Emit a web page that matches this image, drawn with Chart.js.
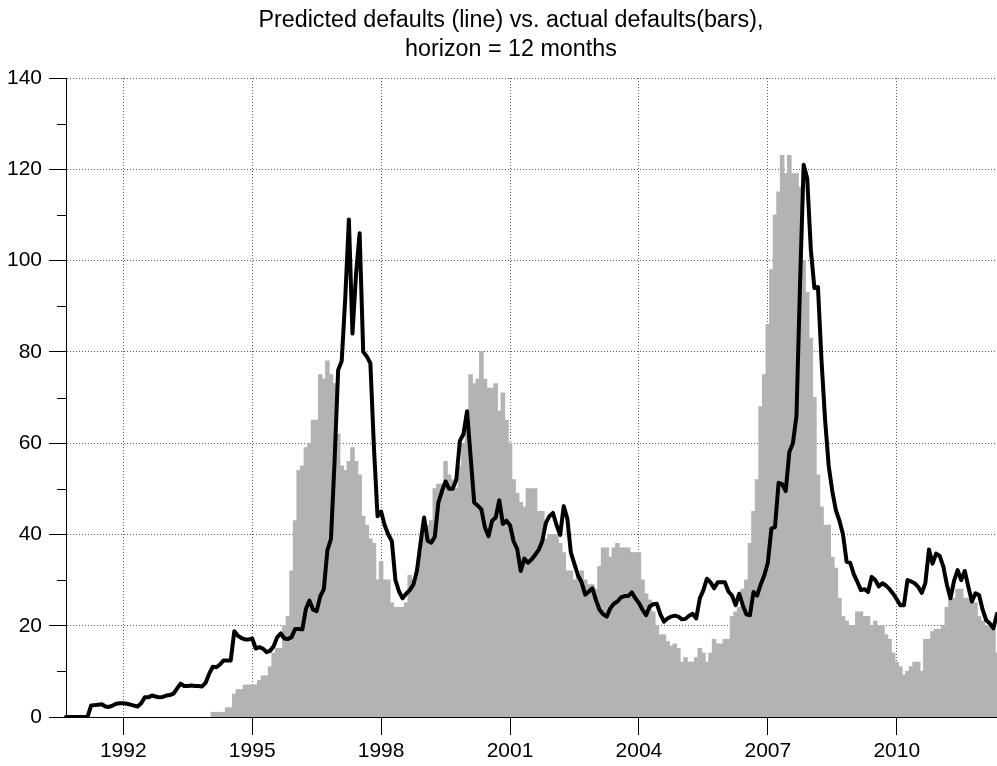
<!DOCTYPE html>
<html>
<head>
<meta charset="utf-8">
<script src="https://cdn.jsdelivr.net/npm/chart.js@4.4.1/dist/chart.umd.min.js"></script>
<style>
html,body{margin:0;padding:0;background:#fff;}
canvas{display:block;}
</style>
</head>
<body>
<canvas id="c" width="997" height="766"></canvas>
<script>
// ---- text ----
const titleLines = ['Predicted defaults (line) vs. actual defaults(bars),', 'horizon = 12 months'];

// ---- categories: monthly, first month of the series ----
const firstYear = 1990;
const firstMonth = 9;
const yearTickLabels = ['1992', '1995', '1998', '2001', '2004', '2007', '2010'];
const yMinorTicks = [10, 30, 50, 70, 90, 110, 130];

// ---- actual defaults (bars), one value per month ----
const actualDefaults = [
  null,null,null,null,null,null,null,null,null,null,null,null,
  null,null,null,null,null,null,null,null,null,null,null,null,
  null,null,null,null,null,null,null,null,null,null,null,null,
  null,null,null,null,null,1,1,1,1,2,2,5,
  6,6,7,7,7,7,8,9,9,11,14,15,
  15,20,22,32,43,54,55,59,60,65,65,75,
  74,78,75,73,62,55,54,56,59,56,53,44,
  42,39,38,30,34,30,30,25,24,24,24,25,
  31,30,32,36,40,42,43,50,51,51,56,53,
  52,50,55,60,64,75,73,74,80,74,72,72,
  73,67,71,65,60,52,49,47,46,50,50,50,
  45,45,39,40,40,40,38,36,32,32,30,31,
  32,30,29,29,28,33,37,37,35,37,38,37,
  37,37,36,36,36,30,27,25.6,23,20,18,18,
  16.5,15.5,16,15,12,13,12,12,13,15,14,12,
  14,17,16,16,17,17,22,23,24,28,30,38,
  45,52,68,75,86,98,110,115,123,119,123,119,
  119,116,100,93,83,70,53,46,42,42,35,32.6,
  26,22,21,20,20,23,23,22,22,20,21,20,
  20,18,17,14,12,11,9.2,10,11,12,12,10,
  17,17,18.7,19.2,19.2,20,24,26,26,28,28,26,
  26,25,25,22,21,20,20,19,14
];

// ---- predicted defaults (line), one value per month ----
const predictedDefaults = [
  0,0,0,0,0,0,0,2.5,2.6,2.7,2.8,2.3,
  2.2,2.5,2.9,3.0,3.0,2.9,2.7,2.5,2.3,3.0,4.3,4.3,
  4.7,4.5,4.3,4.4,4.7,4.8,5.1,6.2,7.3,6.8,6.8,6.9,
  6.8,6.8,6.7,7.5,9.5,11,10.9,11.5,12.4,12.4,12.4,18.8,
  17.8,17.3,17,17,17.2,15,15.3,15,14.2,14.5,15.5,17.5,
  18.3,17.2,17.1,17.5,19.3,19.3,19.2,23.7,25.5,23.5,23.2,26.4,
  28,36.5,39,56,76,78,92,109,84,97,106,80,
  79,77.5,59,44,45,42,40,38.5,30,27.5,26,27,
  27.8,29,32,38,43.7,38.6,38.2,39.5,47,49.5,51.6,50,
  50,52,60.5,62,67,57,47,46.3,45.5,41.5,39.6,43,
  43.7,47.5,42.3,43,42,38.5,36.8,32,34.7,33.8,34.5,35.5,
  36.6,38.5,42.5,44,44.7,42,39.9,46.2,43.5,36,33.5,31,
  29.5,26.8,27.5,28.2,25.6,23.5,22.5,22,23.8,24.8,25.3,26.2,
  26.5,26.5,27.3,26,25,23.5,22.3,24.2,24.7,24.8,22.5,20.9,
  21.6,22,22.2,22,21.4,21.5,22.2,22.6,21.6,26,27.8,30.3,
  29.5,28.2,29.5,29.5,29.5,27.5,26.6,24.5,27,24.5,22.5,22.3,
  27.4,26.6,29,31,33.8,41.3,41.6,51.3,51,49.5,58,60,
  66,95,121,118,102.5,94,94.2,78,65,55,49.5,45.3,
  43,40,34,33.8,31.3,29.6,27.8,28,27.4,30.7,30,28.6,
  29.3,28.8,28,27,25.8,24.5,24.5,30,29.7,29.3,28.5,27.2,
  29.4,36.7,33.6,35.8,35.3,33,29,26,29.8,32.2,30,32,
  28.5,25.3,27.1,26.7,23.5,21.2,20.5,19.4,22.6
];

// month labels "YYYY-MM" for the category axis
const monthLabels = predictedDefaults.map((_, i) => {
  const m = firstMonth - 1 + i;
  return (firstYear + Math.floor(m / 12)) + '-' + String(m % 12 + 1).padStart(2, '0');
});

const FONT = "'Liberation Sans', Arial, Helvetica, sans-serif";

const minorTicksPlugin = {
  id: 'minorTicks',
  afterDraw(chart) {
    const s = chart.scales.y;
    const ctx = chart.ctx;
    ctx.save();
    ctx.strokeStyle = '#000';
    ctx.lineWidth = 1;
    yMinorTicks.forEach(v => {
      const y = Math.round(s.getPixelForValue(v)) + 0.5;
      ctx.beginPath();
      ctx.moveTo(s.right - 9, y);
      ctx.lineTo(s.right, y);
      ctx.stroke();
    });
    ctx.restore();
  }
};

const titlePlugin = {
  id: 'twoLineTitle',
  afterDraw(chart) {
    const ctx = chart.ctx;
    ctx.save();
    ctx.fillStyle = '#000';
    ctx.font = 'normal 23.3px ' + FONT;
    ctx.textAlign = 'center';
    ctx.textBaseline = 'middle';
    const cx = chart.width * 0.5125;
    titleLines.forEach((t, k) => ctx.fillText(t, cx, 21 + k * 28.4));
    ctx.restore();
  }
};

new Chart(document.getElementById('c'), {
  data: {
    labels: monthLabels,
    datasets: [
      {
        type: 'line',
        label: 'Predicted',
        data: predictedDefaults,
        borderColor: '#000',
        borderWidth: 4,
        pointRadius: 0,
        tension: 0,
        borderJoinStyle: 'round',
        borderCapStyle: 'round',
        order: 0
      },
      {
        type: 'bar',
        label: 'Actual',
        data: actualDefaults,
        backgroundColor: '#b3b3b3',
        borderWidth: 0,
        barPercentage: 1,
        categoryPercentage: 1,
        inflateAmount: 0.5,
        order: 1
      }
    ]
  },
  options: {
    responsive: false,
    animation: false,
    devicePixelRatio: 1,
    layout: { padding: { left: 0, right: 0, top: 78, bottom: 0 } },
    plugins: {
      legend: { display: false },
      tooltip: { enabled: false },
      title: { display: false }
    },
    scales: {
      x: {
        type: 'category',
        offset: false,
        afterBuildTicks(scale) {
          scale.ticks = scale.ticks.filter(t => {
            const lab = monthLabels[t.value];
            return lab.endsWith('-01') && yearTickLabels.includes(lab.slice(0, 4));
          });
        },
        afterFit(scale) { scale.height = 49; },
        grid: {
          offset: false,
          color: 'rgba(0,0,0,0.65)',
          lineWidth: 1,
          tickLength: 18,
          tickColor: '#000',
          tickBorderDash: []
        },
        border: { display: true, color: '#000', width: 1, dash: [1, 2], z: 1 },
        ticks: {
          autoSkip: false,
          maxRotation: 0,
          minRotation: 0,
          padding: 4,
          color: '#000',
          font: { family: FONT, size: 21 },
          callback(value) { return monthLabels[value].slice(0, 4); }
        }
      },
      y: {
        min: 0,
        max: 140,
        afterFit(scale) { scale.width = 66; },
        grid: {
          color: 'rgba(0,0,0,0.65)',
          lineWidth: 1,
          tickLength: 17,
          tickColor: '#000',
          tickBorderDash: []
        },
        border: { display: true, color: '#000', width: 1, dash: [1, 2], z: 1 },
        ticks: {
          stepSize: 20,
          padding: 7,
          color: '#000',
          font: { family: FONT, size: 21 }
        }
      }
    }
  },
  plugins: [minorTicksPlugin, titlePlugin]
});
</script>
</body>
</html>
